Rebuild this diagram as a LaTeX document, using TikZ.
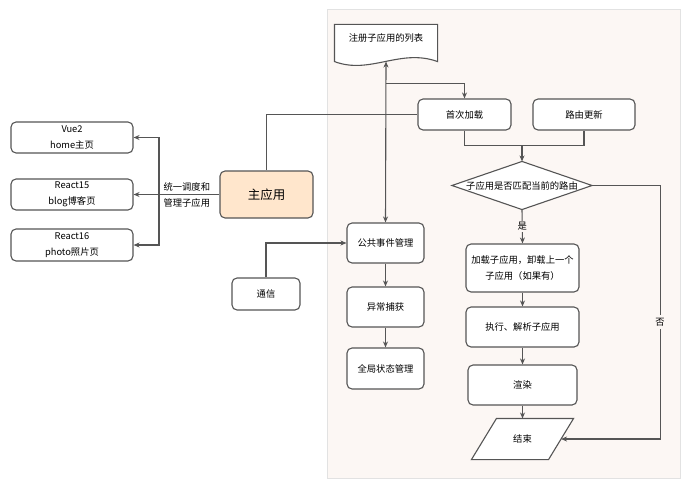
\documentclass[tikz,border=0pt]{standalone}
\usepackage{fontspec}
\setmainfont{Noto Sans CJK SC}
\usepackage{tikz}
\usetikzlibrary{arrows.meta,calc}
\definecolor{linegray}{HTML}{555555}
\definecolor{panelbg}{HTML}{FCF7F4}
\definecolor{panelrule}{HTML}{E2E2E2}
\definecolor{mainfill}{HTML}{FFE6CC}

\begin{document}
\begin{tikzpicture}[x=1pt,y=-1pt,>={Stealth[length=6pt,width=5pt]},
  font=\fontsize{9.3}{16}\selectfont,line width=1.1pt,
  b/.style={draw=linegray,fill=white,rounded corners=5pt,align=center,inner sep=1pt},
  plain/.style={inner sep=0pt,align=center},
  lnk/.style={draw=linegray}]
\useasboundingbox (0,0) rectangle (695,492);
\draw[panelrule,fill=panelbg,line width=0.8pt] (327,9) rectangle (680,478);

% left: sub apps and main app
\node[b,minimum width=122,minimum height=31] (vue) at (72,137.5) {Vue2\\home主页};
\node[b,minimum width=122,minimum height=31] (r15) at (72,194.5) {React15\\blog博客页};
\node[b,minimum width=122,minimum height=32] (r16) at (72,245) {React16\\photo照片页};
\node[b,fill=mainfill,minimum width=93,minimum height=47,font=\fontsize{12.5}{14}\selectfont] (main) at (266.5,194.5) {主应用};
\node[b,minimum width=68,minimum height=32] (comm) at (266,294) {通信};
\coordinate (bus) at (159,194.5);

% register list (document shape)
\node[plain,minimum width=102,minimum height=36] (doc) at (386,43) {};
\draw[lnk,fill=white] (doc.south west) -- (doc.north west) -- (doc.north east) -- (doc.south east)
  .. controls (400,48) and (370,75) .. (doc.south west) -- cycle;
\node[plain] at (doc) [text depth=10pt] {注册子应用的列表};

% middle column
\node[b,minimum width=77,minimum height=40] (evt) at (385.5,243) {公共事件管理};
\node[b,minimum width=77,minimum height=40] (err) at (385.5,307) {异常捕获};
\node[b,minimum width=77,minimum height=41] (state) at (385.5,368.5) {全局状态管理};

% right flow
\node[b,minimum width=93,minimum height=31] (first) at (464.5,114.5) {首次加载};
\node[b,minimum width=102,minimum height=31] (route) at (584,114.5) {路由更新};
\node[plain,minimum width=139,minimum height=47] (match) at (522,185.5) {};
\draw[lnk,fill=white] (match.north) -- (match.east) -- (match.south) -- (match.west) -- cycle;
\node[plain] at (match) {子应用是否匹配当前的路由};
\node[b,minimum width=113,minimum height=48] (load) at (522.5,268) {加载子应用，卸载上一个\\子应用（如果有）};
\node[b,minimum width=113,minimum height=40] (exec) at (522.5,327) {执行、解析子应用};
\node[b,minimum width=109,minimum height=40] (render) at (522.5,385) {渲染};
\node[plain,minimum width=76,minimum height=40] (end) at (522.5,439) {};
\draw[lnk,fill=white] ($(end.north west)+(12.5,0)$) -- ($(end.north east)+(12.5,0)$)
  -- ($(end.south east)+(-12.5,0)$) -- ($(end.south west)+(-12.5,0)$) -- cycle;
\node[plain] at (end) {结束};

% connectors
\draw[lnk,->] (main.west) -- (r15.east) node[plain,pos=0.38]{统一调度和\\管理子应用};
\draw[lnk,->] (bus) |- (vue.east);
\draw[lnk,->] (bus) |- (r16.east);
\draw[lnk] (main.north) |- (first.west);
\draw[lnk,<->] (doc.south) -- (evt.north);
\path (doc.south) ++(0,22) coordinate (j1);
\draw[lnk,->] (j1) -| (first.north);
\draw[lnk,->] (comm.north) |- (evt.west);
\draw[lnk,->] (evt) -- (err);
\draw[lnk,->] (err) -- (state);
\path (match.north) ++(0,-16) coordinate (mj);
\draw[lnk] (first.south) |- (mj) -| (route.south);
\draw[lnk,->] (mj) -- (match.north);
\draw[lnk,->] (match.south) -- node[plain,fill=panelbg,inner sep=1.5pt]{是} (load.north);
\draw[lnk,->] (load) -- (exec);
\draw[lnk,->] (exec) -- (render);
\draw[lnk,->] (render.south) -- (end.north);
\draw[lnk,->] (match.east) -- ++(68,0) |- node[plain,fill=panelbg,inner ysep=3pt,pos=0.27]{否} (end.east);
\end{tikzpicture}
\end{document}
